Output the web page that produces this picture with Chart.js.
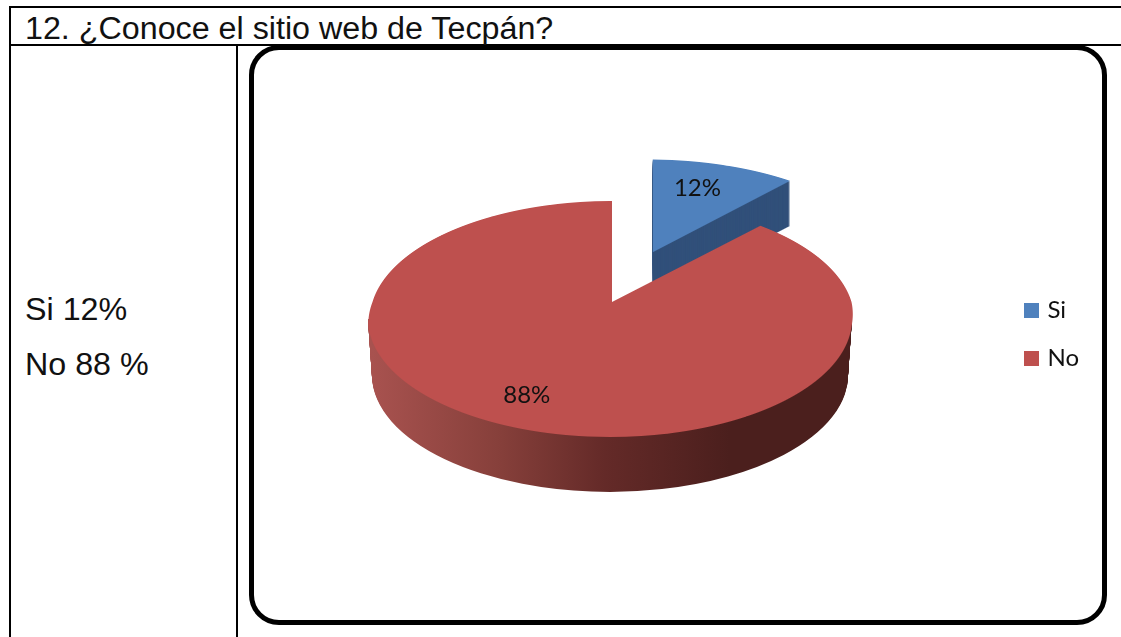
<!DOCTYPE html>
<html lang="es">
<head>
<meta charset="utf-8">
<title>Conoce el sitio web</title>
<script src="https://cdn.jsdelivr.net/npm/chart.js@4/dist/chart.umd.min.js"></script>
<style>
html,body{margin:0;padding:0;background:#fff;overflow:hidden;width:1121px;height:637px}
.l{position:absolute;background:#000}
.t{position:absolute;font-family:"Liberation Sans",Arial,sans-serif;font-size:32.25px;line-height:36px;color:#111;white-space:nowrap}
#box{position:absolute;left:249px;top:45px;width:848px;height:570px;border:5px solid #000;border-radius:30px;background:#fff}
canvas{position:absolute;left:0;top:0}
</style>
</head>
<body>
<div class="l" style="left:9px;top:6px;width:1112px;height:2px"></div>
<div class="l" style="left:9px;top:6px;width:2px;height:631px"></div>
<div class="l" style="left:9px;top:44px;width:1112px;height:2px"></div>
<div class="l" style="left:236px;top:44px;width:2px;height:593px"></div>
<div class="t" style="left:25px;top:10px">12. ¿Conoce el sitio web de Tecpán?</div>
<div class="t" style="left:25px;top:291px">Si 12%</div>
<div class="t" style="left:25px;top:346px">No 88 %</div>
<div id="box"></div>
<canvas id="c" width="1121" height="637"></canvas>
<script>
const categories = ["Si", "No"];
const values = [12, 88];
const sliceColors = ["#4f81bd", "#be504e"];

const W = 1121;
// perspective of the pie's top face
const cx = 612, cy = 302, k = -0.144, b = 115.55, a = 239.5;
const blueDepth = 45, redDepth = 56;
const blueScale = 1.04;
const labelRadius = [0.72, 0.79], labelTurn = [-2.7, 1.6];

function shiftX(v) { return v > 0 ? -2 * Math.min(1, v * 5) : 0; }
function project(u, v) {
  const den = 1 + k * v;
  return { x: cx + a * u / den + shiftX(v), y: cy + b * v / den };
}

function face(ctx, arc, R, fill, dy, y0, y1) {
  const X0 = arc.x, Y0 = arc.y;
  const saved = arc.options;
  arc.options = { ...saved, backgroundColor: fill };
  for (let row = y0; row < y1; row++) {
    const yc = row + 0.5, w = yc - dy - cy;
    const v = w / (b - k * w), den = 1 + k * v;
    const s = a / den / R, t = b / den / den / R;
    ctx.save();
    ctx.beginPath(); ctx.rect(0, row, W, 1); ctx.clip();
    ctx.setTransform(s, 0, 0, t, cx + shiftX(v) - s * X0, yc - t * (Y0 + v * R));
    arc.draw(ctx);
    ctx.restore();
  }
  arc.options = saved;
}

function redWall(ctx, arc) {
  const R = arc.outerRadius, saved = arc.options;
  ctx.save();
  ctx.beginPath(); ctx.rect(0, 319, W, 320); ctx.clip();
  for (let d = redDepth; d >= 1; d--) {
    const rx = 242 - d * 0.07, ry = 118 - d * 0.02, ox = 610, oy = 319 + d;
    const sx = rx / R, sy = ry / R;
    const g = ctx.createLinearGradient(arc.x + (372 - ox) / sx, 0, arc.x + (730 - ox) / sx, 0);
    g.addColorStop(0, "#a8524f");
    g.addColorStop(0.35, "#87403b");
    g.addColorStop(0.65, "#642a28");
    g.addColorStop(1, "#4b1f1d");
    arc.options = { ...saved, backgroundColor: g };
    ctx.save();
    ctx.setTransform(sx, 0, 0, sy, ox - sx * arc.x, oy - sy * arc.y);
    arc.draw(ctx);
    ctx.restore();
  }
  ctx.restore();
  arc.options = saved;
}

const pie3d = {
  id: "pie3d",
  beforeDatasetsDraw(chart) {
    const ctx = chart.ctx, arcs = chart.getDatasetMeta(0).data;
    const blue = arcs[0], red = arcs[1];
    const R = red.outerRadius;
    // the arc element widens an exploded slice by offset * fix; undo that so the slice keeps its size
    const off = (blue.options.offset || 0) / 4;
    const fix = 1 - Math.sin(Math.min(Math.PI, blue.circumference));
    const savedR = blue.outerRadius;
    blue.outerRadius = R * blueScale - off * fix;
    for (let d = blueDepth; d >= 1; d--) face(ctx, blue, R, "#31507a", d, 155 + d, 290);
    redWall(ctx, red);
    face(ctx, blue, R, sliceColors[0], 0, 150, 262);
    blue.outerRadius = savedR;
    face(ctx, red, R, sliceColors[1], 0, 195, 445);

    ctx.save();
    ctx.font = "24px Lato, sans-serif";
    ctx.fillStyle = "#111";
    ctx.textAlign = "center";
    ctx.textBaseline = "middle";
    arcs.forEach((arc, i) => {
      const midRaw = (arc.startAngle + arc.endAngle) / 2;
      const mid = midRaw + labelTurn[i] * Math.PI / 180;
      const o = (arc.options.offset || 0) / 4 / R;
      const u = Math.cos(midRaw) * o + Math.cos(mid) * labelRadius[i];
      const v = Math.sin(midRaw) * o + Math.sin(mid) * labelRadius[i];
      const p = project(u, v);
      ctx.fillText(values[i] + "%", p.x, p.y);
    });
    ctx.restore();
    return false;
  }
};

function swatch(color) {
  const s = document.createElement("canvas");
  s.width = 15; s.height = 15;
  const g = s.getContext("2d");
  g.fillStyle = color; g.fillRect(0, 0, 15, 15);
  return s;
}

new Chart(document.getElementById("c"), {
  type: "pie",
  data: {
    labels: categories,
    datasets: [{
      data: values,
      backgroundColor: sliceColors,
      borderWidth: 0,
      offset: [396, 0],
      radius: 200
    }]
  },
  plugins: [pie3d],
  options: {
    responsive: false,
    animation: false,
    layout: { padding: { top: 32, right: 32 } },
    plugins: {
      tooltip: { enabled: false },
      legend: {
        position: "right",
        labels: {
          usePointStyle: true,
          boxWidth: 7, padding: 20,
          color: "#111",
          font: { family: "Lato, sans-serif", size: 24, lineHeight: 1.2 },
          padding: 24,
          generateLabels(chart) {
            return categories.map((text, index) => ({
              text, index,
              fontColor: "#111",
              fillStyle: sliceColors[index],
              strokeStyle: sliceColors[index],
              lineWidth: 0,
              hidden: false,
              pointStyle: swatch(sliceColors[index])
            }));
          }
        }
      }
    }
  }
});
</script>
</body>
</html>
